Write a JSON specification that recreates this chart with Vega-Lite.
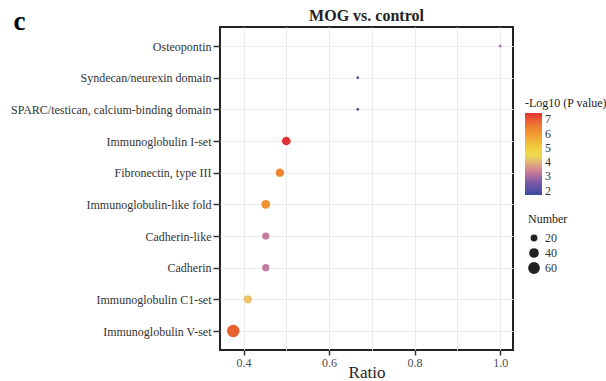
{
  "$schema": "https://vega.github.io/schema/vega-lite/v6.json",
  "width": 293,
  "height": 323,
  "autosize": {"type": "none"},
  "padding": {"left": 220, "top": 27, "right": 93, "bottom": 31},
  "background": "white",
  "title": {"text": "MOG vs. control", "anchor": "middle", "frame": "group", "font": "Liberation Serif", "fontSize": 16, "fontWeight": "bold", "color": "#222", "offset": 0, "dy": 17},
  "config": {"view": {"stroke": "#222", "strokeWidth": 2}, "font": "Liberation Serif"},
  "data": {"values": [
    {"term": "Osteopontin", "ratio": 1.0, "count": 2, "logp": 2.85},
    {"term": "Syndecan/neurexin domain", "ratio": 0.667, "count": 2, "logp": 1.7},
    {"term": "SPARC/testican, calcium-binding domain", "ratio": 0.667, "count": 2, "logp": 1.72},
    {"term": "Immunoglobulin I-set", "ratio": 0.5, "count": 32, "logp": 7.44},
    {"term": "Fibronectin, type III", "ratio": 0.485, "count": 30, "logp": 6.4},
    {"term": "Immunoglobulin-like fold", "ratio": 0.452, "count": 34, "logp": 6.15},
    {"term": "Cadherin-like", "ratio": 0.452, "count": 22, "logp": 3.3},
    {"term": "Cadherin", "ratio": 0.452, "count": 22, "logp": 3.3},
    {"term": "Immunoglobulin C1-set", "ratio": 0.41, "count": 30, "logp": 4.2},
    {"term": "Immunoglobulin V-set", "ratio": 0.376, "count": 67, "logp": 6.9}
  ]},
  "mark": {"type": "circle", "opacity": 1},
  "encoding": {
    "y": {
      "field": "term", "type": "nominal", "sort": null,
      "scale": {"type": "point", "padding": 0.6},
      "axis": {
        "title": "c", "titleAngle": 0, "titleX": -207, "titleY": 2, "titleAlign": "left", "titleBaseline": "alphabetic",
        "titleFont": "Liberation Serif", "titleFontSize": 27, "titleFontWeight": "bold", "titleColor": "#000",
        "labelFont": "Liberation Serif", "labelFontSize": 12, "labelColor": "#333", "labelPadding": 2, "labelLimit": 0,
        "tickColor": "#333", "tickWidth": 1.5, "tickSize": 7, "domain": false,
        "grid": true, "gridColor": "#ececec", "gridWidth": 1
      }
    },
    "x": {
      "field": "ratio", "type": "quantitative",
      "scale": {"domain": [0.345, 1.03], "nice": false, "zero": false},
      "axis": {
        "title": "Ratio", "titleFont": "Liberation Serif", "titleFontSize": 17, "titleFontWeight": "normal", "titleColor": "#222",
        "titleY": 27, "titleBaseline": "alphabetic",
        "values": [0.4, 0.5, 0.6, 0.7, 0.8, 0.9, 1.0],
        "labelExpr": "round(datum.value*10) % 2 == 0 ? format(datum.value, '.1f') : ''",
        "labelFont": "Liberation Serif", "labelFontSize": 12, "labelColor": "#4d4d4d", "labelPadding": 2,
        "tickColor": "#333", "tickWidth": 1.5, "tickSize": 5,
        "tickOpacity": {"condition": {"test": "round(datum.value*10) % 2 == 1", "value": 0}, "value": 1},
        "domain": false, "grid": true, "gridColor": "#ececec", "gridWidth": 1
      }
    },
    "size": {
      "field": "count", "type": "quantitative", "title": "Number",
      "scale": {"domain": [2, 67], "range": [7, 154], "zero": false},
      "legend": {
        "orient": "none", "legendX": 308, "legendY": 187, "values": [20, 40, 60],
        "symbolType": "circle", "symbolFillColor": "#222", "symbolStrokeWidth": 0, "symbolOpacity": 1,
        "titleFont": "Liberation Serif", "titleFontSize": 12, "titleFontWeight": "normal", "titleColor": "#222", "titlePadding": 6,
        "labelFont": "Liberation Serif", "labelFontSize": 12, "labelColor": "#333", "labelOffset": 5, "rowPadding": 3
      }
    },
    "color": {
      "field": "logp", "type": "quantitative", "title": "-Log10 (P value)",
      "scale": {
        "type": "linear",
        "domain": [1.7, 2.6, 3.3, 3.9, 4.6, 5.4, 6.3, 7.0, 7.44],
        "range": ["#3b4ba0", "#7c5aa6", "#c07c9e", "#dcb07c", "#ece446", "#f2b83a", "#ee8a32", "#e85a32", "#e03232"]
      },
      "legend": {
        "orient": "none", "legendX": 305, "legendY": 71, "type": "gradient",
        "gradientLength": 82, "gradientThickness": 17, "gradientStrokeWidth": 0,
        "values": [2, 3, 4, 5, 6, 7], "labelOverlap": false,
        "titleFont": "Liberation Serif", "titleFontSize": 12, "titleFontWeight": "normal", "titleColor": "#222", "titlePadding": 3,
        "labelFont": "Liberation Serif", "labelFontSize": 12, "labelColor": "#333", "labelOffset": 3
      }
    }
  }
}
